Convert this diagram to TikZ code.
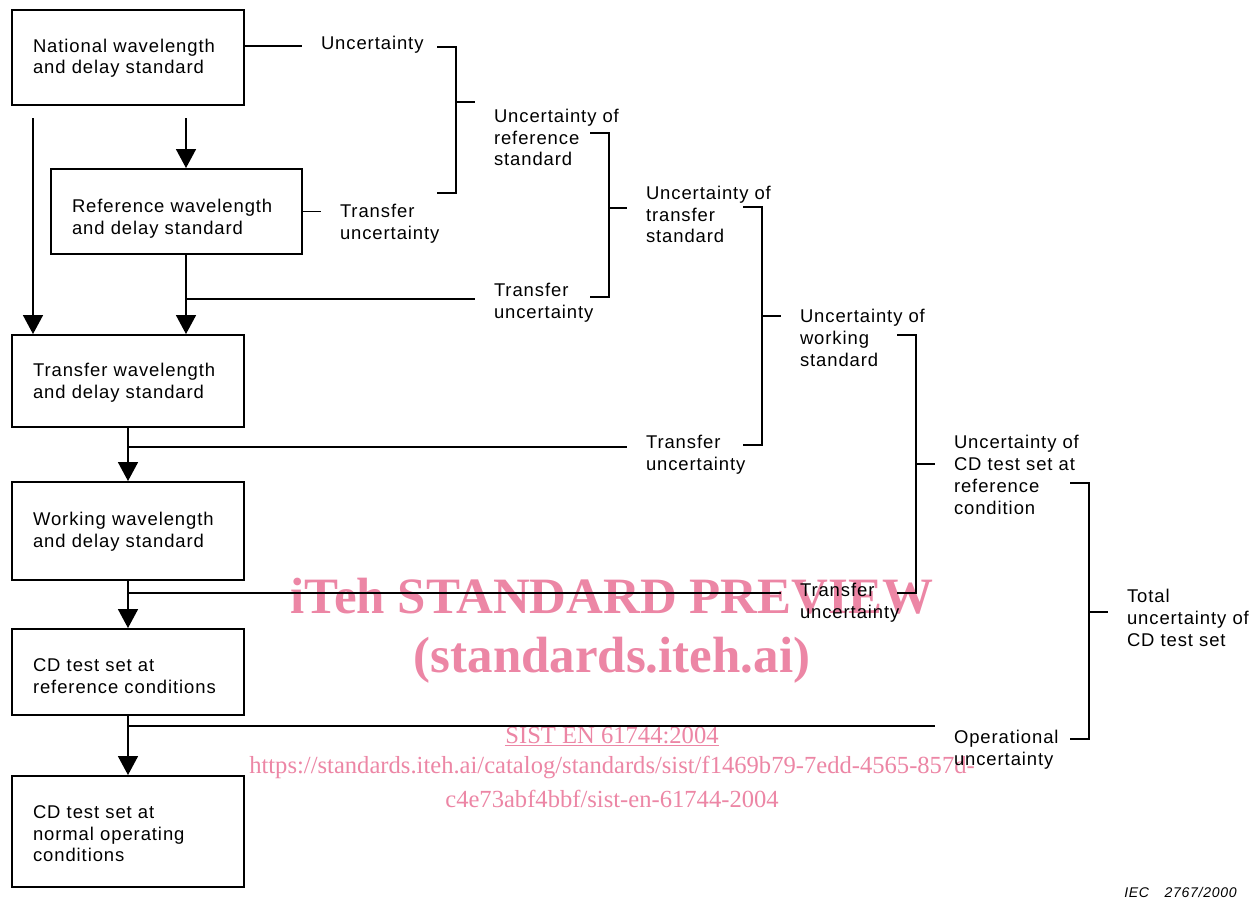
\documentclass[tikz,border=0pt]{standalone}
\usepackage{fontspec}
\setmainfont[LetterSpace=5]{Liberation Sans}
\newfontfamily\wmfont{Liberation Serif}
\usepackage{tikz}
\usetikzlibrary{arrows.meta,positioning}
\definecolor{wmpink}{RGB}{236,134,165}

\begin{document}
\begin{tikzpicture}[x=0.02cm,y=-0.02cm,
  font=\fontsize{10.5}{12.4}\selectfont,
  stdbox/.style={rectangle,draw=black,line width=1.1pt,inner xsep=0.42cm,inner ysep=0pt,text width=3.8cm,text height=10pt,align=left},
  lbl/.style={anchor=west,inner sep=0pt,outer xsep=0.38cm,align=left},
  ln/.style={line width=0.9pt},
  arr/.style={line width=0.9pt,-{Triangle[width=0.4cm,length=0.38cm]}},
  wm/.style={text=wmpink,inner sep=0pt,anchor=base}]
\useasboundingbox (0,0) rectangle (1260,899);
% watermark
\node[wm,font=\wmfont\bfseries\fontsize{29}{34}\selectfont] (w1) at (612,613) {iTeh STANDARD PREVIEW};
\node[wm,font=\wmfont\bfseries\fontsize{29}{34}\selectfont] (w2) at (612,672) {(standards.iteh.ai)};
\node[wm,font=\wmfont\fontsize{14}{17}\selectfont] (w3) at (612,743) {\underline{SIST EN 61744:2004}};
\node[wm,font=\wmfont\fontsize{14}{17}\selectfont] (w4) at (612,773) {https://standards.iteh.ai/catalog/standards/sist/f1469b79-7edd-4565-857d-};
\node[wm,font=\wmfont\fontsize{14}{17}\selectfont] (w5) at (612,807) {c4e73abf4bbf/sist-en-61744-2004};
% standards chain
\node[stdbox,minimum height=1.9cm,text height=8.5pt] (a) at (128,57.5) {National wavelength\\and delay standard};
\node[stdbox,minimum height=1.7cm,text width=4.18cm,text height=15.7pt] (b) at (176.5,211.5) {Reference wavelength\\and delay standard};
\node[stdbox,minimum height=1.84cm] (c) at (128,381) {Transfer wavelength\\and delay standard};
\node[stdbox,minimum height=1.96cm,text height=8pt] (d) at (128,531) {Working wavelength\\and delay standard};
\node[stdbox,minimum height=1.72cm,text height=12.2pt] (e) at (128,672) {CD test set at\\reference conditions};
\node[stdbox,minimum height=2.22cm] (f) at (128,831.5) {CD test set at\\normal operating\\conditions};
% uncertainty labels
\node[lbl] (u1) at (302,45) {Uncertainty};
\node[lbl] (t1) at (321,224) {Transfer\\uncertainty};
\node[lbl] (r1) at (475,137.5) {Uncertainty of\\reference\\standard};
\node[lbl] (t2) at (475,303) {Transfer\\uncertainty};
\node[lbl] (r2) at (627,214.5) {Uncertainty of\\transfer\\standard};
\node[lbl] (t3) at (627,455) {Transfer\\uncertainty};
\node[lbl] (r3) at (781,338) {Uncertainty of\\working\\standard};
\node[lbl] (t4) at (781,603) {Transfer\\uncertainty};
\node[lbl] (r4) at (935,475) {Uncertainty of\\CD test set at\\reference\\condition};
\node[lbl] (o) at (935,750) {Operational\\uncertainty};
\node[lbl] (r5) at (1108,618) {Total\\uncertainty of\\CD test set};
\node[anchor=base east,inner sep=0pt,font=\itshape\fontsize{8}{10}\selectfont] (iec) at (1237,897) {IEC\hspace{1.1em}2767/2000};
% arrows down
\coordinate (p1) at (33,118);
\coordinate (p2) at (186,118);
\draw[arr] (p1) -- (p1 |- c.north);
\draw[arr] (p2) -- (p2 |- b.north);
\draw[arr] (p2 |- b.south) -- (p2 |- c.north);
\draw[arr] (c) -- (d);
\draw[arr] (d) -- (e);
\draw[arr] (e) -- (f);
% feeds to labels
\coordinate (j0) at (244,46);
\draw[ln] (j0) -- (j0 -| u1.west);
\draw[ln] (b.east) -- (b.east -| t1.west);
\coordinate (j1) at (186,299);
\coordinate (j2) at (128,447);
\coordinate (j3) at (128,593);
\coordinate (j4) at (128,726);
\draw[ln] (j1) -- (j1 -| t2.west);
\draw[ln] (j2) -- (j2 -| t3.west);
\draw[ln] (j3) -- (j3 -| t4.west);
\draw[ln] (j4) -- (j4 -| o.west);
% brackets
\coordinate (k1) at (456,47);   \coordinate (k1b) at (456,193); \coordinate (k1m) at (456,102);
\coordinate (k2) at (609,133);  \coordinate (k2b) at (609,297); \coordinate (k2m) at (609,208);
\coordinate (k3) at (762,207);  \coordinate (k3b) at (762,445); \coordinate (k3m) at (762,316);
\coordinate (k4) at (916,335);  \coordinate (k4b) at (916,593); \coordinate (k4m) at (916,464);
\coordinate (k5) at (1089,483); \coordinate (k5b) at (1089,739); \coordinate (k5m) at (1089,612);
\draw[ln] ([xshift=-0.38cm]k1) -- (k1) -- (k1b) -- ([xshift=-0.38cm]k1b);
\draw[ln] ([xshift=-0.38cm]k2) -- (k2) -- (k2b) -- ([xshift=-0.38cm]k2b);
\draw[ln] ([xshift=-0.38cm]k3) -- (k3) -- (k3b) -- ([xshift=-0.38cm]k3b);
\draw[ln] ([xshift=-0.38cm]k4) -- (k4) -- (k4b) -- ([xshift=-0.38cm]k4b);
\draw[ln] ([xshift=-0.38cm]k5) -- (k5) -- (k5b) -- ([xshift=-0.38cm]k5b);
\draw[ln] (k1m) -- (k1m -| r1.west);
\draw[ln] (k2m) -- (k2m -| r2.west);
\draw[ln] (k3m) -- (k3m -| r3.west);
\draw[ln] (k4m) -- (k4m -| r4.west);
\draw[ln] (k5m) -- (k5m -| r5.west);
\end{tikzpicture}
\end{document}
